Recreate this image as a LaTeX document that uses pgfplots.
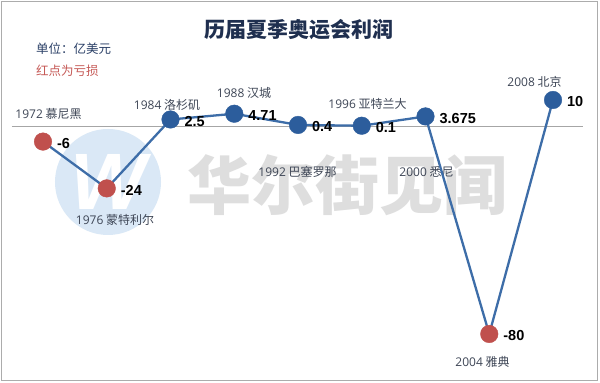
\documentclass[border=0pt]{standalone}
\usepackage{pgfplots}
\pgfplotsset{compat=1.18}
\usepackage{fontspec}
\setmainfont{Liberation Sans}
\newfontfamily\cjk{Noto Sans CJK SC}
\newfontfamily\lat{Open Sans}
\newcommand\cat[2]{{\lat #1} #2}
\definecolor{lineblue}{HTML}{3D6DA8}
\definecolor{markblue}{HTML}{2C5D9C}
\definecolor{markred}{HTML}{C0504D}
\definecolor{titlecol}{HTML}{1F2F4F}
\definecolor{labcol}{HTML}{3E4656}
\definecolor{unitcol}{HTML}{2A3F66}
\definecolor{lossred}{HTML}{C65A57}
\definecolor{wmgray}{HTML}{DEDEDE}
\definecolor{wmblue}{HTML}{DAE8F6}
\begin{document}
\begin{tikzpicture}
\begin{axis}[
  set layers,
  width=600bp, height=383bp, scale only axis,
  hide axis, clip=false,
  xmin=-0.6745, xmax=8.7373, ymin=-98.85, ymax=48.46,
]
\begin{pgfonlayer}{axis background}
\fill[white] (rel axis cs:0,0) rectangle (rel axis cs:1,1);
\draw[gray!65, line width=0.9bp] (rel axis cs:0.0025,0.006) rectangle (rel axis cs:0.9958,0.996);
% watermark
\fill[wmblue] (axis cs:1.0196,-21.538) circle[radius=53bp];
\node[text=white, font=\fontsize{80bp}{80bp}\selectfont\bfseries\itshape] at (axis cs:1.0196,-21.538) {W};
\node[text=wmgray, font=\cjk\bfseries\fontsize{64bp}{64bp}\selectfont] at (axis cs:4.784,-22.69) {华尔街见闻};
% zero line
\draw[gray!70, line width=0.9bp] (axis cs:-0.49,0) -- (axis cs:8.47,0);
\end{pgfonlayer}
% titles
\node[text=titlecol, font=\cjk\bfseries\fontsize{21bp}{25bp}\selectfont] at (axis cs:4.0157,36.92) {历届夏季奥运会利润};
\node[anchor=west, inner sep=0pt, text=unitcol, font=\cjk\fontsize{12.5bp}{15bp}\selectfont] at (axis cs:-0.1098,29.615) {单位：亿美元};
\node[anchor=west, inner sep=0pt, text=lossred, font=\cjk\fontsize{12.5bp}{15bp}\selectfont] at (axis cs:-0.1098,21.154) {红点为亏损};
% category labels
\begin{scope}[every node/.style={text=labcol, inner sep=0pt, font=\cjk\fontsize{12bp}{14bp}\selectfont}]
\node at (axis cs:0.0863,4.615) {\cat{1972}{慕尼黑}};
\node at (axis cs:1.1294,-36.154) {\cat{1976}{蒙特利尔}};
\node at (axis cs:1.9451,8.077) {\cat{1984}{洛杉矶}};
\node at (axis cs:3.1529,12.692) {\cat{1988}{汉城}};
\node at (axis cs:3.9922,-17.692) {\cat{1992}{巴塞罗那}};
\node at (axis cs:5.0902,8.462) {\cat{1996}{亚特兰大}};
\node at (axis cs:6.0157,-17.692) {\cat{2000}{悉尼}};
\node at (axis cs:6.8941,-90.769) {\cat{2004}{雅典}};
\node at (axis cs:7.7098,16.923) {\cat{2008}{北京}};
\end{scope}
% series line with value labels
\addplot[lineblue, line width=2.3bp, mark=none,
  nodes near coords, point meta=explicit symbolic,
  every node near coord/.style={anchor=west, inner sep=0pt, xshift=13bp, yshift=-2bp,
    text=black, font=\fontsize{14.5bp}{16bp}\selectfont\bfseries}]
  coordinates {(0,-6)[-6] (1,-24)[-24] (2,2.5)[2.5] (3,4.71)[4.71] (4,0.4)[0.4]
               (5,0.1)[0.1] (6,3.675)[3.675] (7,-80)[-80] (8,10)[10]};
% markers
\addplot[only marks, mark=*, mark size=8.8bp, mark options={fill=markred, draw=markred}]
  coordinates {(0,-6) (1,-24) (7,-80)};
\addplot[only marks, mark=*, mark size=8.8bp, mark options={fill=markblue, draw=markblue}]
  coordinates {(2,2.5) (3,4.71) (4,0.4) (5,0.1) (6,3.675) (8,10)};
\end{axis}
\end{tikzpicture}
\end{document}
